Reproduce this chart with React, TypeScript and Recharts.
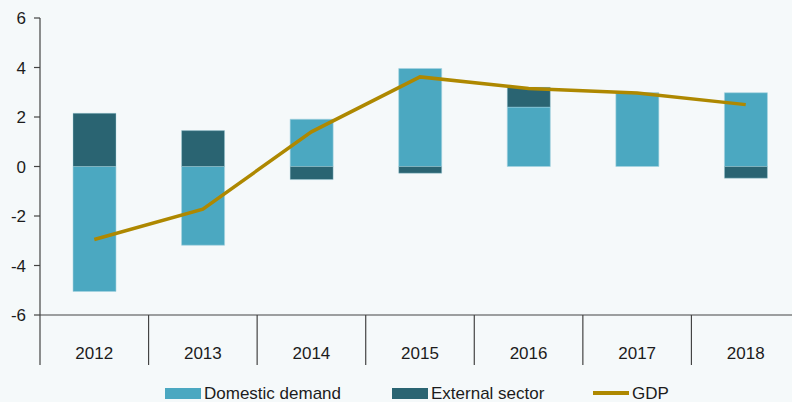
import React from 'react'
import { Bar, ComposedChart, Legend, Line, XAxis, YAxis } from 'recharts'

const years = ['2012', '2013', '2014', '2015', '2016', '2017', '2018']
const domesticDemand = [-5.05, -3.18, 1.91, 3.96, 2.4, 2.96, 2.98]
const externalSector = [2.15, 1.45, -0.53, -0.27, 0.8, 0.02, -0.47]
const gdpGrowth = [-2.95, -1.72, 1.4, 3.62, 3.15, 2.97, 2.5]
const yTicks = [-6, -4, -2, 0, 2, 4, 6]

const data = years.map((name, i) => ({
  name,
  domestic: domesticDemand[i],
  external: externalSector[i],
  gdp: gdpGrowth[i],
}))

const CHART_W = 800
const CHART_H = 408
const AXIS_W = 40
const BAND = (CHART_W - AXIS_W) / years.length
const FONT = '"Liberation Sans", Arial, sans-serif'
const TEXT = '#1c1c1c'
const AXIS = '#444'

const COLORS = {
  domestic: '#4ba8c1',
  external: '#2a6472',
  gdp: '#ae8800',
}

// year label plus a divider at the left edge of each category
const YearTick = ({ x, y, payload }: any) => (
  <g>
    <line x1={x - BAND / 2} x2={x - BAND / 2} y1={y} y2={y + 50} stroke={AXIS} strokeWidth={1.2} />
    <text x={x} y={y + 44} textAnchor="middle" fontSize={17} fontFamily={FONT} fill={TEXT}>
      {payload.value}
    </text>
  </g>
)

const legendItems = [
  { label: 'Domestic demand', left: 165, kind: 'box', color: COLORS.domestic },
  { label: 'External sector', left: 392, kind: 'box', color: COLORS.external },
  { label: 'GDP', left: 593, kind: 'line', color: COLORS.gdp },
]

const ChartLegend = () => (
  <div style={{ position: 'relative', width: CHART_W, height: 30, fontFamily: FONT, fontSize: 17, color: TEXT }}>
    {legendItems.map((item) => (
      <div
        key={item.label}
        style={{ position: 'absolute', left: item.left, top: 0, height: 30, display: 'flex', alignItems: 'center' }}
      >
        <span
          style={{
            display: 'inline-block',
            width: 36,
            height: item.kind === 'box' ? 11 : 3.5,
            background: item.color,
            marginRight: 3,
          }}
        />
        <span style={{ lineHeight: '17px', whiteSpace: 'nowrap' }}>{item.label}</span>
      </div>
    ))}
  </div>
)

export default function App() {
  return (
    <div style={{ width: 792, height: 402, overflow: 'hidden', background: '#f5f9fa', position: 'relative' }}>
      <style>{'body{margin:0}'}</style>
      <ComposedChart
        width={CHART_W}
        height={CHART_H}
        data={data}
        stackOffset="sign"
        barCategoryGap={0}
        margin={{ top: 18, right: 0, bottom: 0, left: 0 }}
      >
        <XAxis
          dataKey="name"
          height={63}
          tickLine={false}
          tickSize={0}
          tickMargin={0}
          axisLine={{ stroke: AXIS, strokeWidth: 1.2 }}
          tick={<YearTick />}
          interval={0}
        />
        <YAxis
          width={AXIS_W}
          domain={[-6, 6]}
          ticks={yTicks}
          interval={0}
          tickSize={6}
          tickMargin={8}
          axisLine={{ stroke: AXIS, strokeWidth: 1.2 }}
          tickLine={{ stroke: AXIS, strokeWidth: 1.2 }}
          tick={{ fontSize: 17, fontFamily: FONT, fill: TEXT }}
        />
        <Legend verticalAlign="bottom" wrapperStyle={{ left: 0, width: CHART_W }} content={<ChartLegend />} />
        <Bar
          dataKey="domestic"
          name="Domestic demand"
          stackId="a"
          fill={COLORS.domestic}
          stroke="#a6d4df"
          strokeOpacity={0.6}
          barSize={43}
          isAnimationActive={false}
        />
        <Bar
          dataKey="external"
          name="External sector"
          stackId="a"
          fill={COLORS.external}
          stroke="#a6d4df"
          strokeOpacity={0.4}
          barSize={43}
          isAnimationActive={false}
        />
        <Line
          dataKey="gdp"
          name="GDP"
          type="linear"
          stroke={COLORS.gdp}
          strokeWidth={3.5}
          dot={false}
          isAnimationActive={false}
        />
      </ComposedChart>
    </div>
  )
}
